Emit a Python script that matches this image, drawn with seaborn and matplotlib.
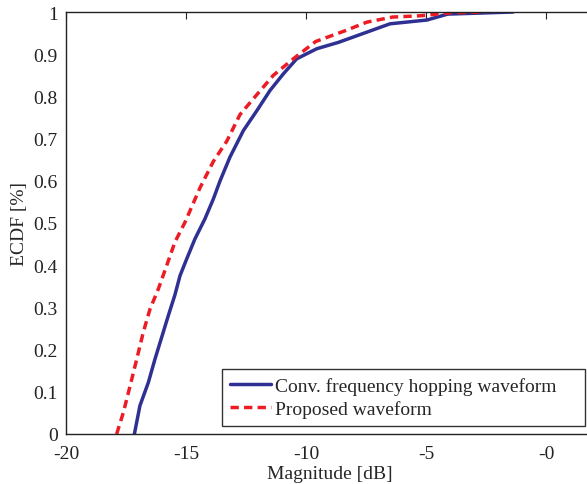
import numpy as np
import pandas as pd
import matplotlib
matplotlib.use("Agg")
import matplotlib.pyplot as plt
import seaborn as sns

# ECDF curves (magnitude in dB, cumulative fraction)
conv_x = [-17.15, -16.92, -16.57, -16.29, -15.95, -15.74, -15.46, -15.25, -14.97, -14.63,
          -14.21, -13.86, -13.58, -13.17, -12.61, -12.05, -11.5, -10.95, -10.39, -9.55,
          -8.65, -7.33, -6.5, -4.96, -4.1, -1.37]
conv_y = [0.0, 0.067, 0.122, 0.178, 0.241, 0.28, 0.33, 0.375, 0.415, 0.462,
          0.51, 0.557, 0.6, 0.656, 0.719, 0.766, 0.814, 0.853, 0.889, 0.913,
          0.928, 0.955, 0.972, 0.981, 0.995, 1.0]

prop_x = [-17.89, -17.61, -17.33, -17.05, -16.78, -16.5, -16.15, -15.8, -15.46, -15.04,
          -14.65, -14.42, -13.86, -13.3, -12.75, -12.05, -11.36, -10.53, -9.6, -8.4,
          -7.46, -6.4, -5.25, -4.0, -2.5]
prop_y = [0.0, 0.051, 0.114, 0.178, 0.241, 0.296, 0.344, 0.4, 0.455, 0.502,
          0.553, 0.583, 0.646, 0.694, 0.757, 0.804, 0.85, 0.889, 0.93, 0.955,
          0.976, 0.988, 0.991, 0.998, 1.0]

labels = ["Conv. frequency hopping waveform", "Proposed waveform"]
x_ticks = [-20, -15, -10, -5, 0]
x_tick_labels = ["-20", "-15", "-10", "-5", "-0"]
y_ticks = [0, 0.1, 0.2, 0.3, 0.4, 0.5, 0.6, 0.7, 0.8, 0.9, 1]
y_tick_labels = ["0", "0.1", "0.2", "0.3", "0.4", "0.5", "0.6", "0.7", "0.8", "0.9", "1"]

sns.set_theme(style="white")
plt.rcParams["font.family"] = ["Liberation Serif", "DejaVu Serif"]

W, H = 587, 485
fig = plt.figure(figsize=(W / 100, H / 100), dpi=100)
# axes: left 66px, bottom 435px, top 13px, right spine just off the image
ax = fig.add_axes([66 / W, (H - 435) / H, (594 - 66) / W, (435 - 13) / H])

df_conv = pd.DataFrame({"x": conv_x, "y": conv_y})
df_prop = pd.DataFrame({"x": prop_x, "y": prop_y})

sns.lineplot(data=df_conv, x="x", y="y", sort=False, ax=ax, color="#2E3192",
             linewidth=2.5, label=labels[0])
sns.lineplot(data=df_prop, x="x", y="y", sort=False, ax=ax, color="#ED1C24",
             linewidth=2.5, linestyle=(0, (2.4, 1.5)), label=labels[1])

ax.set_xlim(-20, 2)
ax.set_ylim(0, 1)
ax.set_xticks(x_ticks)
ax.set_xticklabels(x_tick_labels)
ax.set_yticks(y_ticks)
ax.set_yticklabels(y_tick_labels)
ax.tick_params(direction="in", length=5, width=0.8, labelsize=14, colors="#222222",
               top=True, right=True, pad=6)
ax.tick_params(axis="x", pad=8)
for s in ax.spines.values():
    s.set_color("#222222")
    s.set_linewidth(1.0)

ax.set_xlabel("Magnitude [dB]", fontsize=14, labelpad=2)
ax.set_ylabel("ECDF [%]", fontsize=14, labelpad=4)

leg = ax.legend(loc="lower left", mode="expand",
                bbox_to_anchor=(222 / W, (H - 427) / H, (585 - 222) / W, 55 / H),
                bbox_transform=fig.transFigure, borderaxespad=0, fontsize=14,
                frameon=True, fancybox=False, handlelength=2.1, handletextpad=0.25,
                borderpad=0.4, labelspacing=0.3)
leg.get_frame().set_edgecolor("black")
leg.get_frame().set_linewidth(1.0)

fig.savefig("out.png", dpi=100)
